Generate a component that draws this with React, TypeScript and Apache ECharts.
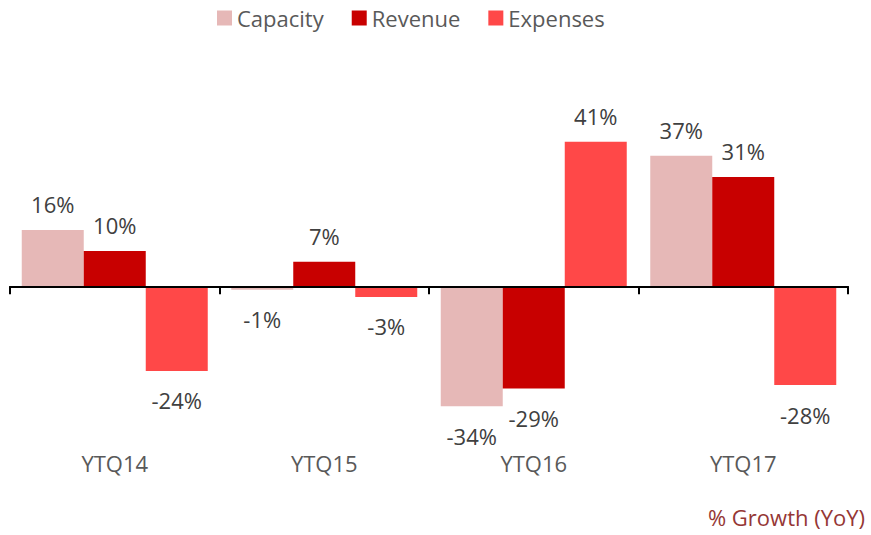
import React, { useEffect, useRef } from "react";
import * as echarts from "echarts";

const categories = ["YTQ14", "YTQ15", "YTQ16", "YTQ17"];
const capacity = [16, -1, -34, 37];
const revenue = [10, 7, -29, 31];
const expenses = [-24, -3, 41, -28];
const seriesNames = ["Capacity", "Revenue", "Expenses"];
const footnote = "% Growth (YoY)";

const FONT = "'Open Sans', 'Noto Sans', sans-serif";

function makeData(values: number[]) {
  return values.map((v) => ({
    value: v,
    label: {
      position: v < 0 ? "bottom" : "top",
      distance: v < 0 ? 18.5 : 15,
    },
  }));
}

export default function App() {
  const ref = useRef<HTMLDivElement>(null);
  useEffect(() => {
    document.body.style.margin = "0";
    if (!ref.current) return;
    const chart = echarts.init(ref.current, undefined, { renderer: "svg" });
    const colors = ["#E6B8B7", "#C80000", "#FF4848"];
    const all = [capacity, revenue, expenses];
    chart.setOption({
      animation: false,
      textStyle: { fontFamily: FONT },
      title: {
        text: footnote,
        right: 6,
        top: 506,
        padding: 0,
        textStyle: {
          fontFamily: FONT,
          fontSize: 22,
          fontWeight: "normal",
          color: "#953735",
        },
      },
      legend: {
        data: seriesNames,
        left: 217,
        top: 7,
        padding: 0,
        icon: "rect",
        itemWidth: 15,
        itemHeight: 15,
        itemGap: 28,
        textStyle: { fontFamily: FONT, fontSize: 22, color: "#595959" },
      },
      grid: { left: 10, right: 23, top: 110, bottom: 90, containLabel: false },
      xAxis: [
        {
          type: "category",
          data: categories,
          position: "top",
          axisLine: { onZero: true, lineStyle: { color: "#000", width: 2 } },
          axisTick: { show: true, inside: true, length: 8, lineStyle: { color: "#000", width: 2 } },
          axisLabel: { show: false },
          splitLine: { show: false },
          z: 10,
        },
        {
          type: "category",
          data: categories,
          position: "bottom",
          axisLine: { show: false, onZero: false },
          axisTick: { show: false },
          axisLabel: { show: true, margin: 7, fontFamily: FONT, fontSize: 22, color: "#595959" },
          splitLine: { show: false },
        },
      ],
      yAxis: {
        type: "value",
        min: -45,
        max: 50,
        show: false,
        splitLine: { show: false },
      },
      series: seriesNames.map((name, i) => ({
        name,
        type: "bar",
        xAxisIndex: 0,
        barWidth: 62,
        barGap: "0%",
        itemStyle: { color: colors[i] },
        label: {
          show: true,
          formatter: (p: any) => `${p.value}%`,
          fontFamily: FONT,
          fontSize: 22,
          color: "#404040",
        },
        data: makeData(all[i]),
      })),
    });
    return () => chart.dispose();
  }, []);
  return <div ref={ref} style={{ width: 871, height: 535 }} />;
}
